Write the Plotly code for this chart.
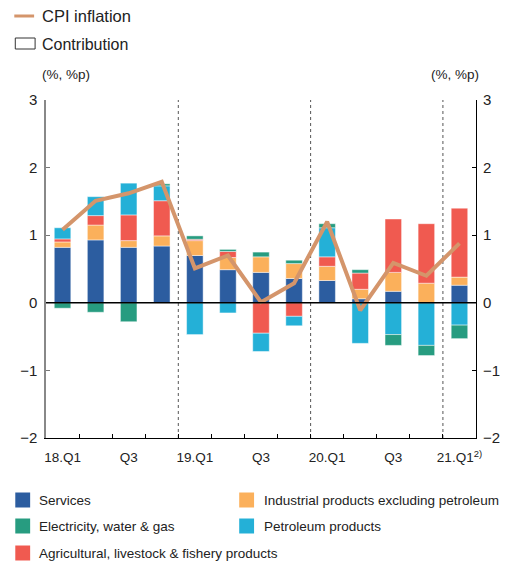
import plotly.graph_objects as go

quarters = ["18.Q1", "18.Q2", "18.Q3", "18.Q4", "19.Q1", "19.Q2", "19.Q3",
            "19.Q4", "20.Q1", "20.Q2", "20.Q3", "20.Q4", "21.Q1"]
tick_labels = ["18.Q1", "", "Q3", "", "19.Q1", "", "Q3", "", "20.Q1", "", "Q3", "",
               "21.Q1<sup>2)</sup>"]

services = [0.82, 0.93, 0.82, 0.84, 0.70, 0.49, 0.45, 0.36, 0.33, 0.06, 0.17, 0.00, 0.26]
industrial = [0.08, 0.22, 0.10, 0.15, 0.22, 0.18, 0.23, 0.22, 0.21, 0.14, 0.28, 0.29, 0.12]
agricultural = [0.045, 0.14, 0.38, 0.52, 0.02, 0.09, -0.45, -0.20, 0.14, 0.24, 0.79, 0.88, 1.02]
petroleum = [0.165, 0.28, 0.47, 0.22, -0.47, -0.15, -0.27, -0.14, 0.43, -0.60, -0.47, -0.63, -0.33]
electricity = [-0.08, -0.14, -0.28, 0.03, 0.05, 0.03, 0.07, 0.05, 0.06, 0.05, -0.16, -0.15, -0.20]
cpi = [1.08, 1.51, 1.62, 1.79, 0.51, 0.70, 0.01, 0.29, 1.20, -0.11, 0.59, 0.40, 0.88]

series = [
    ("Services", services, "#2C5DA0"),
    ("Industrial products excluding petroleum", industrial, "#FBB05B"),
    ("Agricultural, livestock & fishery products", agricultural, "#F05A50"),
    ("Petroleum products", petroleum, "#24B0D7"),
    ("Electricity, water & gas", electricity, "#279C80"),
]
cpi_color = "#D4956B"

FONT = "Liberation Sans, Arial, sans-serif"

# page has an 8px body margin; compensate so the plot lands where the reference has it
OFF = 8
W, H = 504, 556
ML, MR, MT, MB = 36, 34, 92, 126
PW, PH = W - ML - MR, H - MT - MB


def px(x):
    return (x - OFF - ML) / PW


def py(y):
    return (H - MB - (y - OFF)) / PH


fig = go.Figure()
for name, vals, col in series:
    fig.add_trace(go.Bar(
        x=quarters, y=vals, name=name, width=0.5,
        marker=dict(color=col, line=dict(color="rgba(255,255,255,0.45)", width=1)),
        showlegend=False,
    ))

fig.add_trace(go.Scatter(
    x=quarters, y=cpi, mode="lines", name="CPI inflation",
    line=dict(color=cpi_color, width=4), yaxis="y2", showlegend=False,
))

shapes = []
shapes.append(dict(type="line", xref="paper", yref="y", x0=0, x1=1, y0=0, y1=0,
                   line=dict(color="black", width=1.5), layer="above"))
for xv in [3.5, 7.5, 11.5]:
    shapes.append(dict(type="line", xref="x", yref="y", x0=xv, x1=xv, y0=-2, y1=3,
                       line=dict(color="#555555", width=1, dash="dot"), layer="below"))

annotations = []
# top legend
shapes.append(dict(type="line", xref="paper", yref="paper", x0=px(12), x1=px(32),
                   y0=py(16), y1=py(16), line=dict(color=cpi_color, width=3)))
annotations.append(dict(xref="paper", yref="paper", x=px(38), y=py(16), text="CPI inflation",
                        showarrow=False, xanchor="left", yanchor="middle",
                        font=dict(family=FONT, size=16.5, color="#222")))
shapes.append(dict(type="rect", xref="paper", yref="paper", x0=px(13), x1=px(33),
                   y0=py(49), y1=py(38), line=dict(color="#333", width=1), fillcolor="white"))
annotations.append(dict(xref="paper", yref="paper", x=px(38), y=py(44), text="Contribution",
                        showarrow=False, xanchor="left", yanchor="middle",
                        font=dict(family=FONT, size=16, color="#222")))

# bottom legend
legend_pos = [
    ("Services", "#2C5DA0", 13, 35, 500),
    ("Electricity, water & gas", "#279C80", 13, 35, 526),
    ("Agricultural, livestock & fishery products", "#F05A50", 13, 35, 553),
    ("Industrial products excluding petroleum", "#FBB05B", 239, 262, 500),
    ("Petroleum products", "#24B0D7", 239, 262, 526),
]
for name, col, sx, tx, cy in legend_pos:
    shapes.append(dict(type="rect", xref="paper", yref="paper", x0=px(sx), x1=px(sx + 15),
                       y0=py(cy + 7.5), y1=py(cy - 7.5), line=dict(width=0), fillcolor=col))
    annotations.append(dict(xref="paper", yref="paper", x=px(tx), y=py(cy), text=name,
                            showarrow=False, xanchor="left", yanchor="middle",
                            font=dict(family=FONT, size=13.5, color="#222")))

for xc in [64, 457]:
    annotations.append(dict(xref="paper", yref="paper", x=px(xc), y=py(75), text="(%, %p)",
                            showarrow=False, xanchor="center", yanchor="middle",
                            font=dict(family=FONT, size=13.5, color="#222")))

fig.update_layout(
    width=W, height=H, autosize=False,
    margin=dict(l=ML, r=MR, t=MT, b=MB, pad=0),
    barmode="relative", bargap=0.5,
    plot_bgcolor="white", paper_bgcolor="white",
    showlegend=False,
    shapes=shapes, annotations=annotations,
    xaxis=dict(
        type="category", tickmode="array", tickvals=quarters, ticktext=tick_labels,
        tickson="boundaries", ticks="inside", ticklen=4, tickcolor="black", tickangle=0,
        ticklabelstandoff=7,
        showline=True, linecolor="black", linewidth=1, showgrid=False, zeroline=False,
        tickfont=dict(family=FONT, size=13.5, color="#222"), range=[-0.5, 12.5],
    ),
    yaxis=dict(
        range=[-2, 3], dtick=1, tick0=0, ticks="inside", ticklen=4, tickcolor="#777",
        ticklabelstandoff=4,
        showline=True, linecolor="#888", linewidth=1.5, showgrid=False, zeroline=False,
        tickfont=dict(family=FONT, size=15, color="#222"),
    ),
    yaxis2=dict(
        range=[-2, 3], dtick=1, tick0=0, overlaying="y", side="right",
        ticks="inside", ticklen=4, tickcolor="black", ticklabelstandoff=3,
        showline=True, linecolor="black", linewidth=1, showgrid=False, zeroline=False,
        tickfont=dict(family=FONT, size=15, color="#222"),
    ),
)

fig.write_html("out.html")
